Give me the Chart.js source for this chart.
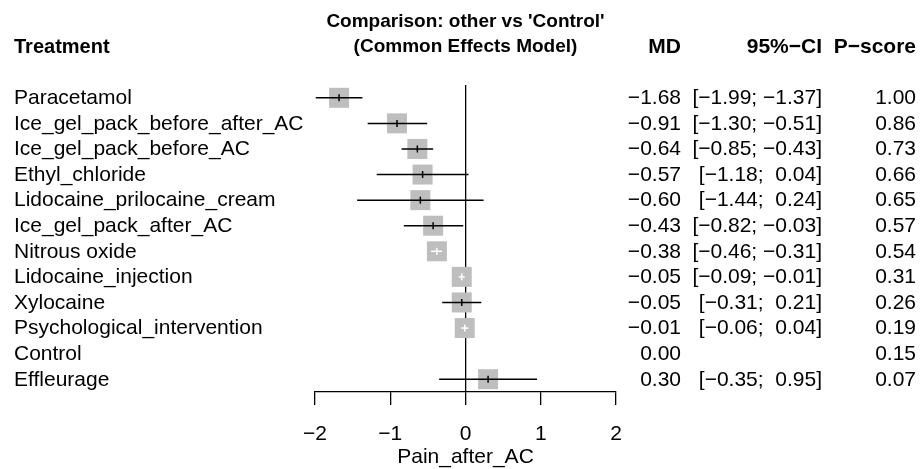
<!DOCTYPE html>
<html>
<head>
<meta charset="utf-8">
<script src="https://cdn.jsdelivr.net/npm/chart.js@4.4.1/dist/chart.umd.min.js"></script>
<style>html,body{margin:0;padding:0;background:#fff;overflow:hidden}</style>
</head>
<body>
<div style="position:relative;width:921px;height:469px"><canvas id="c"></canvas></div>
<script>
// ---- data ----
const treatments = ["Paracetamol","Ice_gel_pack_before_after_AC","Ice_gel_pack_before_AC","Ethyl_chloride",
  "Lidocaine_prilocaine_cream","Ice_gel_pack_after_AC","Nitrous oxide","Lidocaine_injection","Xylocaine",
  "Psychological_intervention","Control","Effleurage"];
const md     = [-1.68,-0.91,-0.64,-0.57,-0.60,-0.43,-0.38,-0.05,-0.05,-0.01,0.00,0.30];
const lower  = [-1.99,-1.30,-0.85,-1.18,-1.44,-0.82,-0.46,-0.09,-0.31,-0.06,null,-0.35];
const upper  = [-1.37,-0.51,-0.43, 0.04, 0.24,-0.03,-0.31,-0.01, 0.21, 0.04,null, 0.95];
const pscore = [1.00,0.86,0.73,0.66,0.65,0.57,0.54,0.31,0.26,0.19,0.15,0.07];
const xTicks = [-2,-1,0,1,2];
const titleLines = ["Comparison: other vs 'Control'", "(Common Effects Model)"];
const xTitle = "Pain_after_AC";

// ---- styles ----
const FONT = "'Liberation Sans', Arial, Helvetica, sans-serif";
const FS = 21;
const SQUARE = 20;      // square side in px
const SQ_COLOR = '#BEBEBE';

const minus = s => s.replace(/-/g, '\u2212');
const fmt = v => minus(v.toFixed(2));
const fmtCI = (lo, hi) => '[' + (lo >= 0 ? ' ' : '') + fmt(lo) + '; ' + (hi >= 0 ? ' ' : '') + fmt(hi) + ']';

const rowsWithCI = treatments.map((_, i) => i).filter(i => lower[i] !== null);
const squareData = rowsWithCI.map(i => ({x: md[i], y: i}));
const ciData = [];
rowsWithCI.forEach(i => { ciData.push({x: lower[i], y: i}, {x: upper[i], y: i}, {x: null, y: i}); });
const centerData = rowsWithCI.map(i => ({x: md[i], y: i}));

function ciInside(chart, i) {
  const xs = chart.scales.x;
  return Math.abs(xs.getPixelForValue(upper[i]) - xs.getPixelForValue(lower[i])) < SQUARE;
}

const textPlugin = {
  id: 'forestText',
  afterDraw(chart) {
    const ctx = chart.ctx, ys = chart.scales.y;
    ctx.save();
    ctx.fillStyle = '#000';
    ctx.textBaseline = 'middle';
    // headers
    ctx.font = 'bold 19px ' + FONT;
    ctx.textAlign = 'center';
    const cx = (chart.chartArea.left + chart.chartArea.right) / 2;
    ctx.fillText(titleLines[0], cx, 22);
    ctx.fillText(titleLines[1], cx, 47);
    ctx.font = 'bold 20px ' + FONT;
    ctx.textAlign = 'left';
    ctx.fillText('Treatment', 14, 47);
    ctx.font = 'bold 21px ' + FONT;
    ctx.textAlign = 'right';
    ctx.fillText('MD', 681, 47);
    ctx.fillText('95%\u2212CI', 822, 47);
    ctx.fillText('P\u2212score', 916, 47);
    // rows
    ctx.font = FS + 'px ' + FONT;
    treatments.forEach((t, i) => {
      const y = ys.getPixelForValue(i) + 0.5;
      ctx.textAlign = 'left';
      ctx.fillText(t, 14, y);
      ctx.textAlign = 'right';
      ctx.fillText(fmt(md[i]), 681, y);
      if (lower[i] !== null) ctx.fillText(fmtCI(lower[i], upper[i]), 822, y);
      ctx.fillText(pscore[i].toFixed(2), 916, y);
    });
    ctx.restore();
  }
};

Chart.defaults.font.family = FONT;
Chart.defaults.color = '#000';

new Chart(document.getElementById('c'), {
  type: 'scatter',
  data: {
    datasets: [
      { label: 'square', data: squareData, order: 3, pointStyle: 'rect',
        pointRadius: SQUARE / 2 * Math.SQRT2, pointBackgroundColor: SQ_COLOR, pointBorderWidth: 0 },
      { label: 'ci', data: ciData, order: 2, showLine: true, spanGaps: false, pointRadius: 0,
        borderColor: '#000', borderWidth: 1.5,
        segment: { borderColor: c => Math.abs(c.p1.x - c.p0.x) < SQUARE ? '#fff' : '#000' } },
      { label: 'est', data: centerData, order: 1, pointStyle: 'line', pointRotation: 90, pointRadius: 3.5,
        pointBorderWidth: 1.5,
        pointBorderColor: c => ciInside(c.chart, c.raw.y) ? '#fff' : '#000' }
    ]
  },
  options: {
    responsive: true, maintainAspectRatio: false, animation: false,
    layout: { padding: { left: 315, right: 305, top: 85, bottom: 0 } },
    plugins: { legend: { display: false }, tooltip: { enabled: false } },
    scales: {
      x: {
        type: 'linear', min: -2, max: 2,
        afterFit: s => { s.height = 77; },
        afterBuildTicks: s => { s.ticks = xTicks.map(v => ({value: v})); },
        border: { display: true, color: '#000', width: 1.3 },
        grid: { drawOnChartArea: true, drawTicks: true, tickLength: 13, tickWidth: 1.3, tickColor: '#000',
                color: c => (c.tick && c.tick.value === 0) ? '#000' : 'rgba(0,0,0,0)', lineWidth: 1.3 },
        ticks: { autoSkip: false, maxRotation: 0, padding: 17, font: { size: FS }, color: '#000',
                 callback: v => minus(String(v)) },
        title: { display: true, text: xTitle, font: { size: FS }, color: '#000', padding: { top: 0, bottom: -1 } }
      },
      y: { type: 'linear', min: -0.5, max: treatments.length - 0.5, reverse: true, display: false }
    }
  },
  plugins: [textPlugin]
});
</script>
</body>
</html>
